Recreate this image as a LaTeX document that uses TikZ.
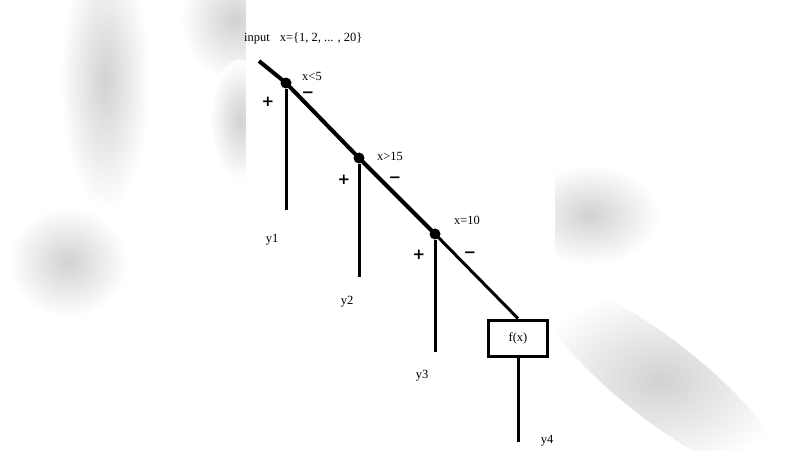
\documentclass[tikz,border=0pt]{standalone}
\usepackage{fontspec}
\setmainfont{Liberation Serif}
\newfontfamily\signfont{DejaVu Sans}
\tikzset{
  branchdot/.style={circle,fill=black,inner sep=0pt,minimum size=11pt},
  sign/.style={font=\signfont\bfseries\fontsize{15}{15}\selectfont,inner sep=0pt},
  cond/.style={font=\fontsize{12.5}{12.5}\selectfont,inner sep=0pt},
  blob/.style={shading=radial,inner color=black!18,outer color=white}
}
\begin{document}
\begin{tikzpicture}[x=1pt,y=-1pt]
  \useasboundingbox (0,0) rectangle (800,450);
  \fill[white] (0,0) rectangle (800,450);
  % blurred backdrop
  \shade[blob] (105,80) ellipse (45 and 130);
  \shade[blob] (68,262) ellipse (60 and 55);
  \shade[blob] (235,20) ellipse (55 and 60);
  \shade[blob] (240,120) ellipse (30 and 60);
  \shade[blob] (590,215) ellipse (70 and 50);
  \shade[blob,rotate around={-38:(660,380)}] (660,380) ellipse (150 and 40);
  \fill[white] (246,0) rectangle (555,450);

  \path
  (259,61) coordinate (start)
  (286,83) node[branchdot] (d1) {}
  (359,158) node[branchdot] (d2) {}
  (435,234) node[branchdot] (d3) {}
  (518,338) node[draw,line width=3pt,minimum width=59pt,minimum height=36pt,inner sep=0pt,font=\fontsize{12.5}{12.5}\selectfont] (fx) {f(x)}
  (286,210) coordinate (e1)
  (359,277) coordinate (e2)
  (435,352) coordinate (e3)
  (518,442) coordinate (e4);

  \node[cond,anchor=west] (input) at (244,38) {input\hspace{10pt}x=\{1, 2, ... , 20\}};
  \node[cond] (c1) at (312,76) {x<5};
  \node[cond] (c2) at (390,156) {x>15};
  \node[cond] (c3) at (467,220) {x=10};

  \node[sign] (p1) at (268,102) {+};
  \node[sign] (m1) at (308,95) {−};
  \node[sign] (p2) at (344,180) {+};
  \node[sign] (m2) at (395,180) {−};
  \node[sign] (p3) at (419,255) {+};
  \node[sign] (m3) at (470,255) {−};

  \node[cond] (y1) at (272,240) {y1};
  \node[cond] (y2) at (347,302) {y2};
  \node[cond] (y3) at (422,376) {y3};
  \node[cond] (y4) at (547,441) {y4};

  \draw[line width=4pt] (start) -- (d1.center) -- (d2.center) -- (d3.center);
  \draw[line width=3pt] (d3.center) -- (fx.north);
  \draw[line width=3pt] (d1) -- (e1);
  \draw[line width=3pt] (d2) -- (e2);
  \draw[line width=3pt] (d3) -- (e3);
  \draw[line width=3pt] (fx) -- (e4);
\end{tikzpicture}
\end{document}
